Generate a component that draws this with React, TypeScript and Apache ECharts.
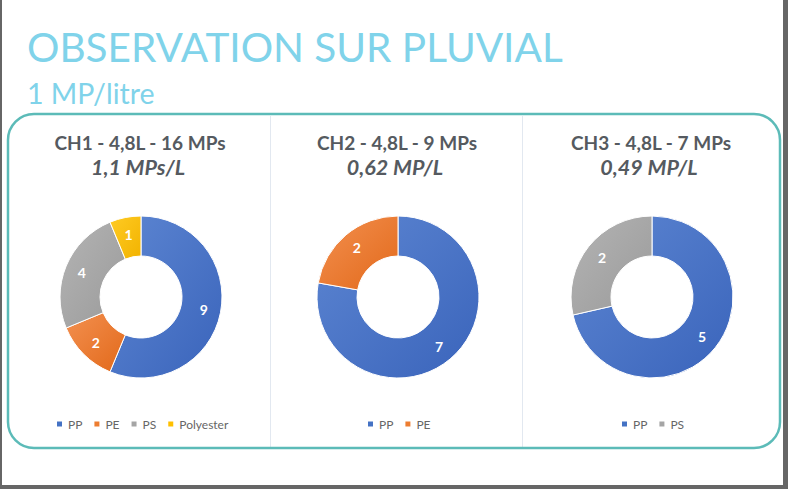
import React, { useEffect, useRef } from "react";
import * as echarts from "echarts";

const pageTitle = "OBSERVATION SUR PLUVIAL";
const pageSubtitle = "1 MP/litre";

const chartTitles = ["CH1 - 4,8L - 16 MPs", "CH2 - 4,8L - 9 MPs", "CH3 - 4,8L - 7 MPs"];
const chartSubtitles = ["1,1 MPs/L", "0,62 MP/L", "0,49 MP/L"];

const ch1Names = ["PP", "PE", "PS", "Polyester"];
const ch1Values = [9, 2, 4, 1];
const ch2Names = ["PP", "PE"];
const ch2Values = [7, 2];
const ch3Names = ["PP", "PS"];
const ch3Values = [5, 2];

const COLORS: Record<string, [string, string, string]> = {
  PP: ["#5d86d2", "#3a64bb", "#4472c4"],
  PE: ["#f39050", "#e2691a", "#ed7d31"],
  PS: ["#b4b4b4", "#9a9a9a", "#a5a5a5"],
  Polyester: ["#ffcb24", "#f2b300", "#ffc000"],
};

const CENTERS_X = [141, 398, 652];
const LEGEND_LEFT = [55, 366, 620];
const CENTER_Y = 297;
const TEXT_DARK = "#555a60";
const FONT = "Lato, 'Open Sans', sans-serif";

function grad(name: string) {
  const c = COLORS[name];
  return new echarts.graphic.LinearGradient(0, 0, 1, 1, [
    { offset: 0, color: c[0] },
    { offset: 1, color: c[1] },
  ]);
}

export default function App() {
  const ref = useRef<HTMLDivElement>(null);

  useEffect(() => {
    document.body.style.margin = "0";
    if (!ref.current) return;
    const chart = echarts.init(ref.current, undefined, { renderer: "svg" });

    const groups = [
      { names: ch1Names, values: ch1Values },
      { names: ch2Names, values: ch2Values },
      { names: ch3Names, values: ch3Values },
    ];

    const series = groups.map((g, i) => ({
      type: "pie",
      name: chartTitles[i],
      center: [CENTERS_X[i], CENTER_Y],
      radius: [41, 81],
      startAngle: 90,
      clockwise: true,
      avoidLabelOverlap: false,
      itemStyle: { borderColor: "#ffffff", borderWidth: 1 },
      label: {
        show: true,
        position: "inside",
        formatter: "{c}",
        color: "#ffffff",
        fontFamily: FONT,
        fontWeight: "bold",
        fontSize: 14,
      },
      labelLine: { show: false },
      emphasis: { disabled: true },
      data: g.names.map((n, k) => ({
        name: n,
        value: g.values[k],
        itemStyle: { color: grad(n) },
      })),
    }));

    const legends = groups.map((g, i) => ({
      orient: "horizontal",
      left: LEGEND_LEFT[i],
      top: 417,
      padding: 0,
      icon: "rect",
      itemWidth: 7,
      itemHeight: 7,
      itemGap: 10,
      selectedMode: false,
      textStyle: { color: "#666666", fontSize: 12, lineHeight: 14, fontFamily: FONT },
      data: g.names.map((n) => ({ name: n, itemStyle: { color: COLORS[n][2] } })),
    }));

    const txt = (text: string, x: number, y: number, font: string, fill: string, align: string) => ({
      type: "text",
      x,
      y,
      style: {
        text,
        fill,
        font,
        align,
        textAlign: align,
        verticalAlign: "middle",
        textVerticalAlign: "middle",
      },
    });

    const graphics: any[] = [
      { type: "rect", shape: { x: 0, y: 0, width: 2, height: 489 }, style: { fill: "#666666" }, z: 1 },
      { type: "rect", shape: { x: 783, y: 0, width: 5, height: 489 }, style: { fill: "#666666" }, z: 1 },
      { type: "rect", shape: { x: 0, y: 485, width: 788, height: 4 }, style: { fill: "#666666" }, z: 1 },
      txt(pageTitle, 27, 46, `400 40.5px ${FONT}`, "#80d3ea", "left"),
      txt(pageSubtitle, 27, 93, `400 28.5px ${FONT}`, "#80d3ea", "left"),
      {
        type: "rect",
        shape: { x: 8, y: 114, width: 772, height: 334, r: 26 },
        style: { fill: "rgba(0,0,0,0)", stroke: "#5cbbb8", lineWidth: 2.5 },
        z: 1,
      },
      { type: "line", shape: { x1: 270.5, y1: 116, x2: 270.5, y2: 447 }, style: { stroke: "#e2e8f0", lineWidth: 1 }, z: 0 },
      { type: "line", shape: { x1: 522.5, y1: 116, x2: 522.5, y2: 447 }, style: { stroke: "#e2e8f0", lineWidth: 1 }, z: 0 },
    ];

    chartTitles.forEach((t, i) => {
      graphics.push(txt(t, CENTERS_X[i] - 1, 142, `bold 19px ${FONT}`, TEXT_DARK, "center"));
      graphics.push(txt(chartSubtitles[i], CENTERS_X[i] - 3, 167, `italic bold 21.5px ${FONT}`, TEXT_DARK, "center"));
    });

    chart.setOption({
      animation: false,
      backgroundColor: "#ffffff",
      legend: legends,
      series,
      graphic: { elements: graphics },
    });

    return () => chart.dispose();
  }, []);

  return <div ref={ref} style={{ width: 788, height: 489 }} />;
}
